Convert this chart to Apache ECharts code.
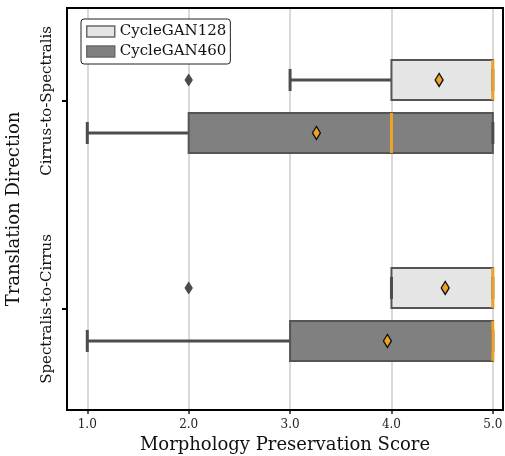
<!DOCTYPE html>
<html>
<head>
<meta charset="utf-8">
<script src="https://cdn.jsdelivr.net/npm/echarts@6/dist/echarts.min.js"></script>
<style>
html,body{margin:0;padding:0;background:#fff;}
#chart{width:505px;height:456px;}
</style>
</head>
<body>
<div id="chart"></div>
<script>
// ---- data ----
const categories = ['Cirrus-to-Spectralis', 'Spectralis-to-Cirrus'];
const models = ['CycleGAN128', 'CycleGAN460'];
const xTicks = [1, 2, 3, 4, 5];

const whiskerLow128 = [3, 4];
const q1_128 = [4, 4];
const median128 = [5, 5];
const q3_128 = [5, 5];
const whiskerHigh128 = [5, 5];
const mean128 = [4.47, 4.53];
const outliers128 = [[2], [2]];

const whiskerLow460 = [1, 1];
const q1_460 = [2, 3];
const median460 = [4, 5];
const q3_460 = [5, 5];
const whiskerHigh460 = [5, 5];
const mean460 = [3.26, 3.96];
const outliers460 = [[], []];

// ---- style ----
const FONT = 'DejaVu Serif';
const fills = ['#e5e5e5', '#808080'];
const offsets = [-21, 32];   // px offset of each model's box from category center
const BOX_H = 40;
const EDGE = '#555555';
const WHISK = '#4d4d4d';
const ORANGE = '#eca227';

function buildData(wl, q1, med, q3, wh, mean) {
  return categories.map((c, i) => [i, wl[i], q1[i], med[i], q3[i], wh[i], mean[i]]);
}
const seriesData = [
  buildData(whiskerLow128, q1_128, median128, q3_128, whiskerHigh128, mean128),
  buildData(whiskerLow460, q1_460, median460, q3_460, whiskerHigh460, mean460)
];
const seriesOutliers = [outliers128, outliers460];

function makeRender(si) {
  return function (params, api) {
    const cat = api.value(0);
    const yc = api.coord([0, cat])[1] + offsets[si];
    const px = v => api.coord([v, cat])[0];
    const xwl = px(api.value(1)), xq1 = px(api.value(2)), xmed = px(api.value(3)),
          xq3 = px(api.value(4)), xwh = px(api.value(5)), xmean = px(api.value(6));
    const h = BOX_H, capH = 22;
    const children = [];
    // whiskers
    children.push({type: 'line', shape: {x1: xwl, y1: yc, x2: xq1, y2: yc}, style: {stroke: WHISK, lineWidth: 3}});
    children.push({type: 'line', shape: {x1: xq3, y1: yc, x2: xwh, y2: yc}, style: {stroke: WHISK, lineWidth: 3}});
    // box
    children.push({type: 'rect', shape: {x: xq1, y: yc - h / 2, width: xq3 - xq1, height: h},
      style: {fill: fills[si], stroke: EDGE, lineWidth: 2}});
    // caps
    children.push({type: 'line', shape: {x1: xwl, y1: yc - capH / 2, x2: xwl, y2: yc + capH / 2}, style: {stroke: WHISK, lineWidth: 3}});
    children.push({type: 'line', shape: {x1: xwh, y1: yc - capH / 2, x2: xwh, y2: yc + capH / 2}, style: {stroke: WHISK, lineWidth: 3}});
    // median
    children.push({type: 'line', shape: {x1: xmed, y1: yc - h / 2, x2: xmed, y2: yc + h / 2}, style: {stroke: ORANGE, lineWidth: 3}});
    // mean diamond
    children.push({type: 'polygon', shape: {points: [[xmean, yc - 6.5], [xmean + 4, yc], [xmean, yc + 6.5], [xmean - 4, yc]]},
      style: {fill: ORANGE, stroke: '#111', lineWidth: 1.3}});
    // outliers
    (seriesOutliers[si][cat] || []).forEach(o => {
      const xo = px(o);
      children.push({type: 'polygon', shape: {points: [[xo, yc - 6], [xo + 3.8, yc], [xo, yc + 6], [xo - 3.8, yc]]},
        style: {fill: '#4a4a4a', stroke: '#4a4a4a', lineWidth: 0.8}});
    });
    return {type: 'group', children: children};
  };
}

const series = models.map((m, si) => ({
  type: 'custom',
  name: m,
  z: 2,
  itemStyle: {color: fills[si], borderColor: EDGE},
  renderItem: makeRender(si),
  encode: {x: [1, 2, 3, 4, 5, 6], y: 0},
  data: seriesData[si]
}));

const chart = echarts.init(document.getElementById('chart'), null, {renderer: 'canvas'});
chart.setOption({
  animation: false,
  backgroundColor: '#fff',
  grid: {left: 67, right: 2, top: 8, bottom: 46, outerBoundsMode: 'none', containLabel: false,
    show: true, borderColor: '#000', borderWidth: 2, backgroundColor: 'transparent', z: 6},
  legend: {
    orient: 'vertical', left: 81, top: 19,
    padding: [5, 4, 5, 5], itemGap: 5, itemWidth: 28, itemHeight: 11,
    backgroundColor: '#fff', borderColor: '#222', borderWidth: 1, borderRadius: 3,
    textStyle: {fontFamily: FONT, fontSize: 15, color: '#111'},
    data: models.map((m, i) => ({name: m, icon: 'rect', itemStyle: {color: fills[i], borderColor: '#6a6a6a', borderWidth: 1.5}}))
  },
  xAxis: {
    type: 'value', min: 0.8, max: 5.1,
    name: 'Morphology Preservation Score', nameLocation: 'middle', nameGap: 18,
    nameTextStyle: {fontFamily: FONT, fontSize: 18, color: '#111'},
    axisLine: {show: true, onZero: false, lineStyle: {color: '#000', width: 2}},
    axisTick: {show: true, length: 4, lineStyle: {color: '#222', width: 1.5}, customValues: xTicks},
    axisLabel: {customValues: xTicks, fontFamily: FONT, fontSize: 12, color: '#222', margin: 9,
      formatter: v => Number(v).toFixed(1)},
    splitLine: {show: true, lineStyle: {color: '#d9d9d9', width: 2}}
  },
  yAxis: {
    type: 'value', inverse: true, min: -0.447, max: 1.486,
    name: 'Translation Direction', nameLocation: 'middle', nameGap: 44,
    nameTextStyle: {fontFamily: FONT, fontSize: 18, color: '#111'},
    axisLine: {show: true, onZero: false, lineStyle: {color: '#000', width: 2}},
    axisTick: {show: true, length: 5, lineStyle: {color: '#000', width: 2}, customValues: categories.map((c, i) => i)},
    axisLabel: {customValues: categories.map((c, i) => i), rotate: 90, fontFamily: FONT, fontSize: 15, color: '#111', margin: 12,
      formatter: v => categories[Math.round(v)]},
    splitLine: {show: false}
  },
  series: series
});
</script>
</body>
</html>
